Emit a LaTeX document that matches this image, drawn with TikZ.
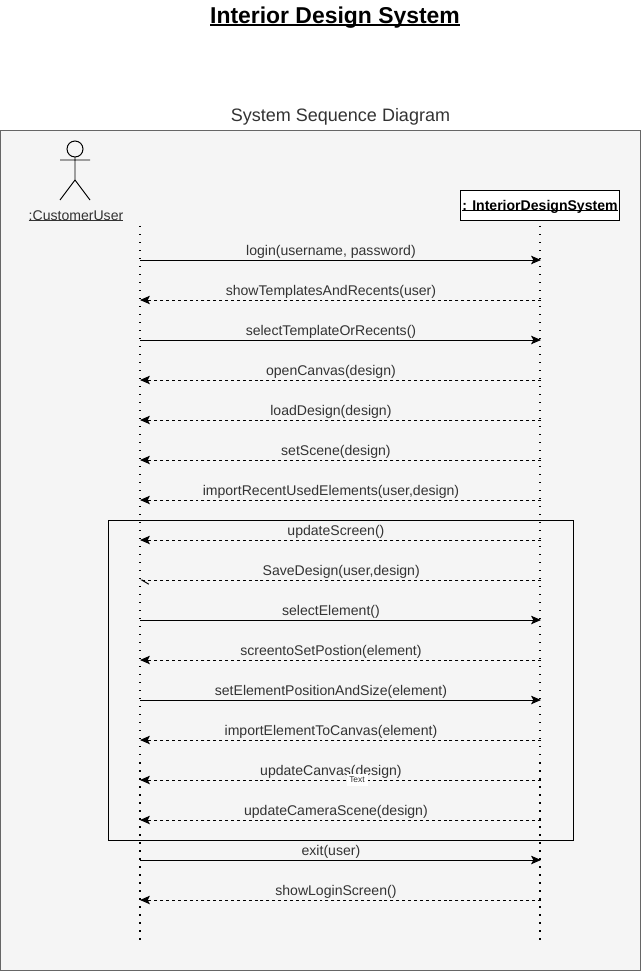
\documentclass[tikz,border=0pt]{standalone}
\usepackage{fontspec}
\setmainfont{Liberation Sans}
\usepackage{xcolor}
\usetikzlibrary{arrows.meta,positioning}
\definecolor{ink}{HTML}{333333}
\definecolor{panel}{HTML}{F5F5F5}
\definecolor{panelline}{HTML}{666666}
\newcommand{\ultext}[1]{\setbox0=\hbox{#1}\rlap{\rule[-0.1em]{\wd0}{0.07em}}\box0}
\begin{document}
\begin{tikzpicture}[
  x=0.025cm,y=-0.025cm,
  life/.style={draw=black,line width=1pt,dash pattern=on 1pt off 4.69pt},
  call/.style={draw=black,line width=0.7pt,-{Stealth[length=7pt,width=6pt,inset=1.5pt]}},
  reply/.style={draw=black,line width=0.7pt,dash pattern=on 2.1pt off 2.1pt,-{Stealth[length=7pt,width=6pt,inset=1.5pt]}},
  msg/.style={font=\fontsize{10}{12}\selectfont,text=ink,above=1pt,inner sep=0pt,midway,xshift=-6.8pt},
  msgmid/.style={msg,xshift=3.55pt},
  msgend/.style={msg,xshift=7.3pt},
  head/.style={text height=7.2pt,text depth=0pt,font=\fontsize{10}{12}\selectfont}
]
  \useasboundingbox (0,0) rectangle (641,971);
  \node[text height=11.7pt,text depth=0pt,font=\fontsize{16.3}{20}\selectfont\bfseries] (title) at (335,15) {\ultext{Interior Design System}};
  \node[text height=9.2pt,text depth=0pt,font=\fontsize{12.8}{16}\selectfont,text=ink] (subtitle) at (340.5,115) {System Sequence Diagram};
  \node[draw=panelline,fill=panel,line width=0.7pt,minimum width=640*0.025cm,minimum height=840*0.025cm,anchor=north west,inner sep=0pt] (frame) at (0,130) {};

  % actor
  \draw[line width=0.7pt,fill=panel] (75,149) circle (8);
  \draw[line width=0.7pt] (75,157) -- (75,180) (60,160) -- (90,160) (60,200) -- (75,180) -- (90,200);
  \node[head,text=ink] (cust) at (76,215) {\ultext{:CustomerUser}};
  \node[head,draw=black,fill=white,line width=0.7pt,font=\fontsize{10}{12}\selectfont\bfseries,minimum width=159*0.025cm,minimum height=30*0.025cm,inner sep=0pt] (sys) at (540,205) {\ultext{: InteriorDesignSystem}};

  % lifelines
  \coordinate (cs) at (140,226);
  \coordinate (ce) at (140,940);
  \coordinate (ss) at (540,226);
  \coordinate (se) at (540,940);
  \draw[life] (cs) -- (ce);
  \draw[life] (ss) -- (se);

  % group box
  \node[draw=black,line width=0.7pt,minimum width=465*0.025cm,minimum height=320*0.025cm,anchor=north west,inner sep=0pt] (grp) at (108,520) {};

  \coordinate (c1) at (140,260);  \coordinate (s1) at (541,260);
  \coordinate (c2) at (140,300);  \coordinate (s2) at (541,300);
  \coordinate (c3) at (140,340);  \coordinate (s3) at (541,340);
  \coordinate (c4) at (140,380);  \coordinate (s4) at (541,380);
  \coordinate (c5) at (140,420);  \coordinate (s5) at (541,420);
  \coordinate (c6) at (140,460);  \coordinate (s6) at (541,460);
  \coordinate (c7) at (140,500);  \coordinate (s7) at (541,500);
  \coordinate (c8) at (140,540);  \coordinate (s8) at (541,540);
  \coordinate (c9) at (140,580);  \coordinate (s9) at (541,580);
  \coordinate (c10) at (140,620); \coordinate (s10) at (541,620);
  \coordinate (c11) at (140,660); \coordinate (s11) at (541,660);
  \coordinate (c12) at (140,700); \coordinate (s12) at (541,700);
  \coordinate (c13) at (140,740); \coordinate (s13) at (541,740);
  \coordinate (c14) at (140,780); \coordinate (s14) at (541,780);
  \coordinate (c15) at (140,820); \coordinate (s15) at (541,820);
  \coordinate (c16) at (140,860); \coordinate (s16) at (541,860);
  \coordinate (c17) at (140,900); \coordinate (s17) at (541,900);

  \draw[call] (c1) -- node[msg] {login(username, password)} (s1);
  \draw[reply] (s2) -- node[msg] {showTemplatesAndRecents(user)} (c2);
  \draw[call] (c3) -- node[msg] {selectTemplateOrRecents()} (s3);
  \draw[reply] (s4) -- node[msg] {openCanvas(design)} (c4);
  \draw[reply] (s5) -- node[msg] {loadDesign(design)} (c5);
  \draw[reply] (s6) -- node[msgmid] {setScene(design)} (c6);
  \draw[reply] (s7) -- node[msg] {importRecentUsedElements(user,design)} (c7);
  \draw[reply] (s8) -- node[msgmid] {updateScreen()} (c8);
  \draw[reply,-{Straight Barb[left,length=5pt,width=6pt]}] (s9) -- node[msgend] {SaveDesign(user,design)} (c9);
  \draw[call] (c10) -- node[msg] {selectElement()} (s10);
  \draw[reply] (s11) -- node[msg] {screentoSetPostion(element)} (c11);
  \draw[call] (c12) -- node[msg] {setElementPositionAndSize(element)} (s12);
  \draw[reply] (s13) -- node[msg] {importElementToCanvas(element)} (c13);
  \draw[reply] (s14) -- node[msg] {updateCanvas(design)} (c14);
  \draw[reply] (s15) -- node[msgmid] {updateCameraScene(design)} (c15);
  \draw[call] (c16) -- node[msg] {exit(user)} (s16);
  \draw[reply] (s17) -- node[msgmid] {showLoginScreen()} (c17);

  \node[fill=white,text=ink,font=\fontsize{6}{7}\selectfont,inner sep=0pt,minimum width=21*0.025cm,minimum height=12*0.025cm] (stray) at (357,780) {Text};
\end{tikzpicture}
\end{document}
